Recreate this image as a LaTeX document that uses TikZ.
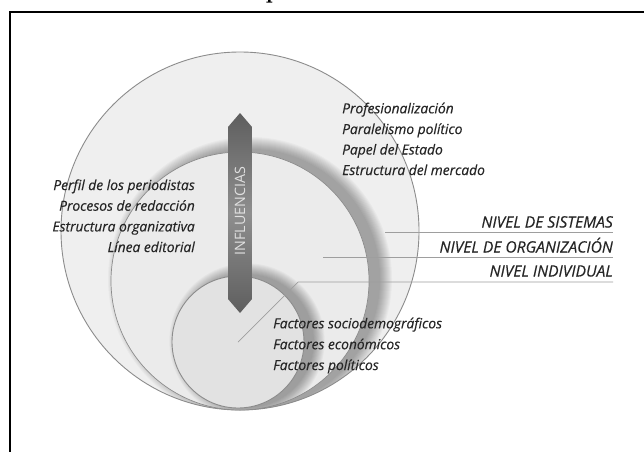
\documentclass[tikz,border=0pt]{standalone}
\usepackage{fontspec}
\setmainfont{Open Sans}[ItalicFeatures={FakeBold=0.35}]
\newfontfamily\titlefont{Latin Modern Roman}
\definecolor{txt}{HTML}{262626}
\definecolor{rim}{HTML}{8C8C8C}
\definecolor{fillA}{HTML}{EFEFEF}
\definecolor{fillB}{HTML}{EBEBEB}
\definecolor{fillC}{HTML}{E2E2E2}
\definecolor{lvline}{HTML}{9E9E9E}
\definecolor{arrdark}{HTML}{5E5E5E}
\definecolor{arrlight}{HTML}{8E8E8E}
\tikzset{
  itxt/.style={font=\itshape\fontsize{13.8}{15}\selectfont, text=txt, inner sep=0pt},
  lvtxt/.style={font=\itshape\fontsize{15.6}{17}\selectfont, text=txt, inner sep=0pt, anchor=base east},
  lvl/.style={draw=lvline, line width=0.7pt},
  rimline/.style={draw=rim, line width=0.9pt},
}
\begin{document}
\begin{tikzpicture}[x=1pt,y=-1pt]
\useasboundingbox (0,0) rectangle (644,452);
\fill[white] (0,0) rectangle (644,452);
% title fragment
\node[font=\titlefont\bfseries\fontsize{24}{24}\selectfont, anchor=base, inner sep=0pt] (ttl) at (273,-1.3) {p};
% frame
\draw[line width=2pt] (644,12) -- (10,12) -- (10,452);

% circles
\coordinate (cO) at (240,231);
\coordinate (cM) at (240,281);
\coordinate (cI) at (238,342);
\fill[fillA] (cO) circle (179);
\begin{scope}
  \clip (cO) circle (179);
  \foreach \i in {1,...,13} {
    \fill[black, opacity=0.026] ([xshift=10pt,yshift=2pt]cM) circle (129+\i*1.0);
  }
\end{scope}
\draw[rimline] (cO) circle (179);
\fill[fillB] (cM) circle (129);
\begin{scope}
  \clip (cM) circle (129);
  \foreach \i in {1,...,13} {
    \fill[black, opacity=0.026] ([xshift=9pt,yshift=1pt]cI) circle (66+\i*0.9);
  }
\end{scope}
\draw[draw=rim, line width=0.7pt] (cM) circle (129);
\fill[fillC] (cI) circle (66);
\draw[rimline] (cI) circle (66);

% level lines
\node[lvtxt] (ls) at (613,227.5) {NIVEL DE SISTEMAS};
\node[lvtxt] (lo) at (613,252.5) {NIVEL DE ORGANIZACIÓN};
\node[lvtxt] (li) at (613,276.5) {NIVEL INDIVIDUAL};
\coordinate (ps) at (385,232);
\coordinate (po) at (323,257);
\coordinate (pk) at (298,282);
\draw[lvl] (ps) -- (ps -| ls.east);
\draw[lvl] (po) -- (po -| lo.east);
\draw[lvl] (cI) -- (pk) -- (pk -| li.east);

% arrow
\coordinate (at) at (240,113);
\coordinate (ab) at (240,313);
\shade[top color=arrdark, bottom color=arrdark, middle color=arrlight]
  (at) -- (252,127) -- (252,299) -- (ab) -- (228,299) -- (228,127) -- cycle;
\node[rotate=90, font=\fontsize{14.3}{16}\selectfont, text=white!88!black, inner sep=0pt] (infl) at (240,211) {INFLUENCIAS};

% left texts
\node[itxt, anchor=base east] (l1) at (195,190) {Perfil de los periodistas};
\node[itxt, anchor=base east] (l2) at (195,210.7) {Procesos de redacción};
\node[itxt, anchor=base east] (l3) at (195,231.4) {Estructura organizativa};
\node[itxt, anchor=base east] (l4) at (195,252) {Línea editorial};

% right top texts
\node[itxt, anchor=base west] (r1) at (342,113.3) {Profesionalización};
\node[itxt, anchor=base west] (r2) at (342,134) {Paralelismo político};
\node[itxt, anchor=base west] (r3) at (342,154.5) {Papel del Estado};
\node[itxt, anchor=base west] (r4) at (342,175) {Estructura del mercado};

% bottom texts
\node[itxt, anchor=base west] (b1) at (273,328.3) {Factores sociodemográficos};
\node[itxt, anchor=base west] (b2) at (273,349.2) {Factores económicos};
\node[itxt, anchor=base west] (b3) at (273,370) {Factores políticos};
\end{tikzpicture}
\end{document}
